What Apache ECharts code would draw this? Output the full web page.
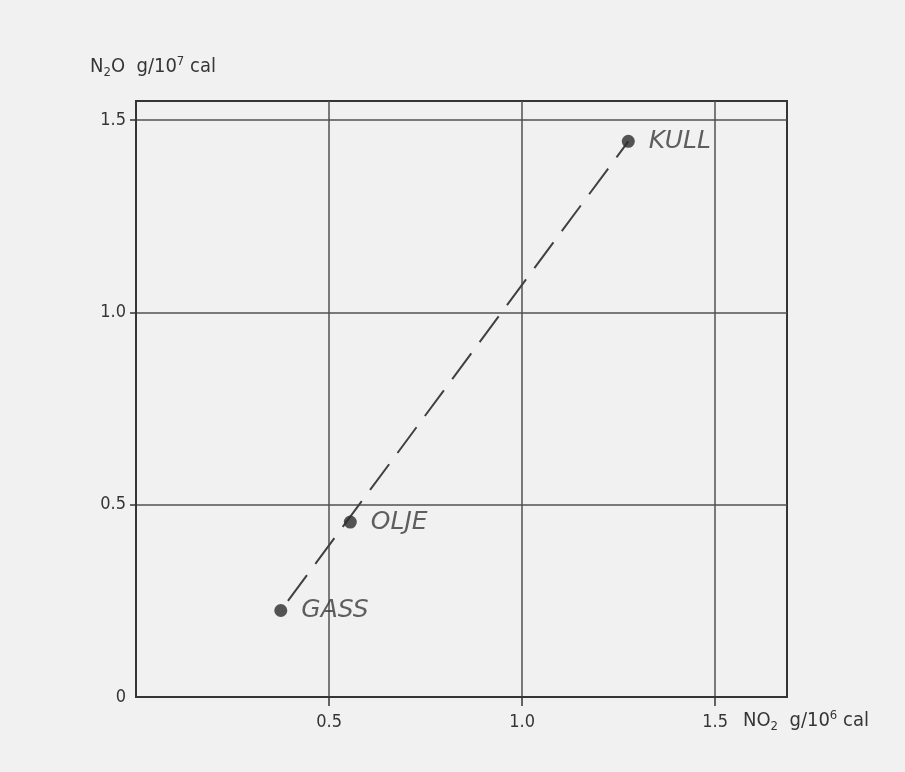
<!DOCTYPE html>
<html>
<head>
<meta charset="utf-8">
<script src="https://cdn.jsdelivr.net/npm/echarts@6/dist/echarts.min.js"></script>
<style>
html,body{margin:0;padding:0;background:#f1f1f1;}
#chart{width:905px;height:772px;}
</style>
</head>
<body>
<div id="chart"></div>
<script>
// ---- data ----
const fuels = ['GASS', 'OLJE', 'KULL'];
const no2Values = [0.375, 0.555, 1.275];   // NO2 g/10^6 cal
const n2oValues = [0.225, 0.455, 1.445];   // N2O g/10^7 cal
const xTickValues = [0.5, 1.0, 1.5];
const yTickValues = [0.5, 1.0, 1.5];
const yLabelValues = [0, 0.5, 1.0, 1.5];
const trendFrom = 'GASS';
const trendTo = 'KULL';

const ink = '#353535';
const font = "'DejaVu Sans Condensed', 'DejaVu Sans', sans-serif";

const points = fuels.map((n, i) => ({ name: n, value: [no2Values[i], n2oValues[i]] }));
const iA = fuels.indexOf(trendFrom), iB = fuels.indexOf(trendTo);
const trend = [[no2Values[iA], n2oValues[iA]], [no2Values[iB], n2oValues[iB]]];

const fmt = v => (v === 0 ? '0' : v.toFixed(1));
const nameRich = {
  a: { fontFamily: font, fontSize: 20, color: ink },
  sub: { fontFamily: font, fontSize: 13, color: ink, padding: [11, 0, 0, 0] },
  sup: { fontFamily: font, fontSize: 13, color: ink, padding: [0, 0, 11, 0] }
};

const chart = echarts.init(document.getElementById('chart'), null, { renderer: 'canvas' });
chart.setOption({
  backgroundColor: '#f1f1f1',
  animation: false,
  grid: {
    left: 136, right: 118, top: 101, bottom: 75,
    show: true, borderColor: ink, borderWidth: 2, backgroundColor: 'transparent'
  },
  xAxis: {
    type: 'value', min: 0, max: 1.686, interval: 0.5,
    name: '{a|NO}{sub|2}{a|  g/10}{sup|6}{a| cal}',
    nameLocation: 'end', nameGap: -44,
    nameTextStyle: { align: 'left', verticalAlign: 'top', padding: [12, 0, 0, 0], rich: nameRich },
    axisLine: { show: true, onZero: false, lineStyle: { color: ink, width: 2 } },
    axisTick: { show: true, inside: false, length: 9, customValues: xTickValues, lineStyle: { color: ink, width: 1.5 } },
    axisLabel: { customValues: xTickValues, formatter: fmt, margin: 16, fontFamily: font, fontSize: 18, color: ink },
    splitLine: { show: true, lineStyle: { color: '#505050', width: 1.5 } }
  },
  yAxis: {
    type: 'value', min: 0, max: 1.55, interval: 0.5,
    name: '{a|N}{sub|2}{a|O  g/10}{sup|7}{a| cal}',
    nameLocation: 'end', nameGap: 22,
    nameTextStyle: { align: 'left', padding: [0, 0, 0, -46], rich: nameRich },
    axisLine: { show: true, onZero: false, lineStyle: { color: ink, width: 2 } },
    axisTick: { show: true, inside: false, length: 6, customValues: yTickValues, lineStyle: { color: ink, width: 1.5 } },
    axisLabel: { customValues: yLabelValues, formatter: fmt, margin: 10, fontFamily: font, fontSize: 18, color: ink },
    splitLine: { show: true, lineStyle: { color: '#505050', width: 1.5 } }
  },
  series: [
    {
      type: 'line', data: trend, symbol: 'none', silent: true, z: 2,
      lineStyle: { color: '#404040', width: 2, type: [32, 14], dashOffset: -12 }
    },
    {
      type: 'scatter', data: points, symbol: 'circle', symbolSize: 13, z: 3,
      itemStyle: { color: '#2c2c2c' },
      label: {
        show: true, position: 'right', distance: 14,
        formatter: p => p.name,
        fontFamily: "'DejaVu Sans', sans-serif", fontStyle: 'italic', fontWeight: 'normal',
        fontSize: 25, color: '#3a3a3a'
      }
    }
  ]
});
</script>
</body>
</html>
